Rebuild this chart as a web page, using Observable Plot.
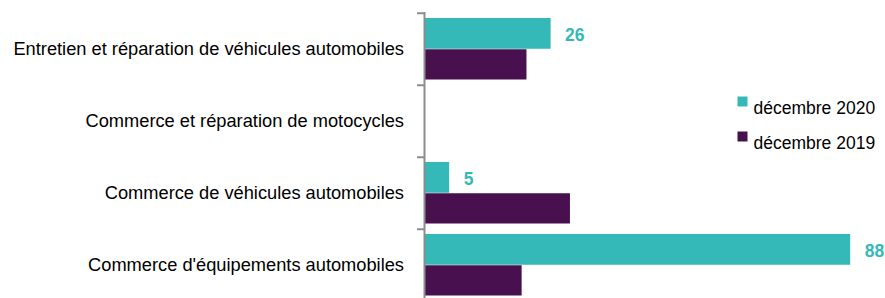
<!DOCTYPE html>
<html>
<head>
<meta charset="utf-8">
<script src="https://cdn.jsdelivr.net/npm/d3@7"></script>
<script src="https://cdn.jsdelivr.net/npm/@observablehq/plot@0.6"></script>
<style>
  html, body { margin: 0; padding: 0; background: #fff; }
  #chart svg { display: block; }
</style>
</head>
<body>
<div id="chart"></div>
<script>
const categories = [
  "Entretien et réparation de véhicules automobiles",
  "Commerce et réparation de motocycles",
  "Commerce de véhicules automobiles",
  "Commerce d'équipements automobiles"
];
const seriesNames = ["décembre 2020", "décembre 2019"];
const seriesColors = ["#35b8b8", "#48104f"];
const values2020 = [26, null, 5, 88];
const values2019 = [21, null, 30, 20];

const rows = categories.flatMap((c, i) => [
  {category: c, series: seriesNames[0], value: values2020[i]},
  {category: c, series: seriesNames[1], value: values2019[i]}
]);
const rows2020 = rows.filter(d => d.series === seriesNames[0] && d.value != null);
const rows2019 = rows.filter(d => d.series === seriesNames[1] && d.value != null);

const bw = 72.5;
const font = "'Liberation Sans', Arial, sans-serif";

const chart = Plot.plot({
  width: 885,
  height: 298,
  marginLeft: 425,
  marginRight: 1,
  marginTop: 12,
  marginBottom: 0,
  style: {fontFamily: font, fontSize: "18px", color: "#000", background: "#fff"},
  x: {domain: [0, 95], axis: null},
  y: {domain: categories, range: [12, 302], padding: 0, axis: null},
  marks: [
    Plot.barX(rows2020, {y: "category", x: "value", fill: seriesColors[0], insetTop: 5, insetBottom: bw / 2}),
    Plot.barX(rows2019, {y: "category", x: "value", fill: seriesColors[1], insetTop: bw / 2, insetBottom: 5.5}),
    Plot.text(rows2020, {
      y: "category", x: "value", text: d => String(d.value),
      dx: 14, dy: -14.5, textAnchor: "start", fill: seriesColors[0],
      fontWeight: "bold", fontSize: 17.5
    }),
    Plot.axisY({tickSize: 0, tickPadding: 21.5, fontSize: 18.25, label: null, fill: "#000"}),
    Plot.ruleX([0], {stroke: "#8c8c8c", strokeWidth: 2, dx: -1}),
    Plot.ruleY(categories, {y: d => d, x1: 0, x2: 0, insetLeft: -7, dx: -1, dy: -bw / 2, stroke: "#8c8c8c", strokeWidth: 2}),
    ...seriesNames.map((s, i) => Plot.dot([s], {
      frameAnchor: "top-left", dx: 317, dy: 89 + i * 35,
      symbol: "square", r: 5.64, fill: seriesColors[i], stroke: null
    })),
    ...seriesNames.map((s, i) => Plot.text([s], {
      frameAnchor: "top-left", dx: 328, dy: 89 + i * 35, text: d => d,
      textAnchor: "start", fill: "#000", fontSize: 17.5
    }))
  ]
});
document.getElementById("chart").appendChild(chart);
</script>
</body>
</html>
